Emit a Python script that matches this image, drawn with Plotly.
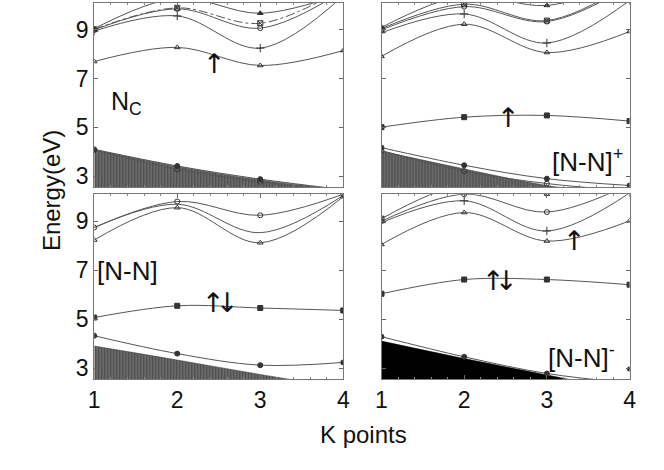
import plotly.graph_objects as go

K = [1, 2, 3, 4]
X_TICKS = [1, 2, 3, 4]
Y_TICKS = [3, 5, 7, 9]
Y_RANGE = [2.55, 10.1]

# Panel 1: N_C
nc_tri = [7.70, 8.28, 7.54, 8.15]
nc_plus = [8.95, 9.57, 8.25, 10.4]
nc_circ = [9.00, 9.86, 9.07, 10.6]
nc_sq = [9.02, 9.90, 9.27, 10.7]
nc_ftri = [9.05, 10.3, 9.68, 10.5]
nc_val = [4.10, 3.42, 2.88, 2.45]
nc_val2 = [4.08, 3.28, 2.77, 2.35]
nc_shade = [4.10, 3.40, 2.85, 2.45]

# Panel 2: [N-N]+
pp_tri = [7.91, 9.23, 8.07, 8.93]
pp_plus = [8.88, 9.65, 8.46, 10.2]
pp_circ = [9.00, 9.95, 9.34, 10.8]
pp_sq = [9.05, 10.05, 9.38, 10.9]
pp_ftri = [9.10, 10.4, 10.0, 11.0]
pp_def = [5.01, 5.42, 5.49, 5.26]
pp_val = [4.17, 3.45, 2.90, 2.62]
pp_val2 = [4.05, 3.21, 2.70, 2.40]
pp_shade = [4.03, 3.30, 2.62, 2.20]

# Panel 3: [N-N]
n0_tri = [8.23, 9.55, 8.12, 10.0]
n0_mid = [8.74, 9.69, 8.53, 10.05]
n0_circ = [8.74, 9.80, 9.24, 10.1]
n0_def = [5.07, 5.55, 5.46, 5.36]
n0_val = [4.33, 3.60, 3.13, 3.24]
n0_shade = [3.91, 3.34, 2.75, 2.20]

# Panel 4: [N-N]-
nm_tri = [8.05, 9.35, 8.19, 9.01]
nm_plus = [8.94, 9.83, 8.60, 10.15]
nm_circ = [9.00, 10.1, 9.37, 10.5]
nm_sq = [9.10, 10.5, 10.15, 10.8]
nm_def = [6.04, 6.62, 6.62, 6.41]
nm_val = [4.29, 3.47, 2.79, 2.40]
nm_extra_k = [4]
nm_extra_e = [2.97]
nm_shade = [4.11, 3.40, 2.73, 2.06]

LINE_COL = "#555555"
HATCH = dict(shape="|", fgcolor="#111111", bgcolor="#808080", size=3, solidity=0.6)

fig = go.Figure()


def band(ax, vals, symbol, dash="solid", size=5):
    xa, ya = ax
    fig.add_trace(go.Scatter(
        x=K, y=vals, xaxis=xa, yaxis=ya, mode="lines+markers" if symbol else "lines",
        line=dict(color=LINE_COL, width=1, shape="spline", smoothing=1.0, dash=dash),
        marker=dict(symbol=symbol or "circle", size=size, color="#333333",
                    line=dict(color="#333333", width=1)),
        showlegend=False, hoverinfo="skip"))


def shade(ax, vals, pattern=True):
    xa, ya = ax
    kw = dict(fillpattern=HATCH, fillcolor="#808080") if pattern else dict(fillcolor="black")
    fig.add_trace(go.Scatter(
        x=K, y=vals, xaxis=xa, yaxis=ya, mode="lines", fill="tozeroy",
        line=dict(color="#333333" if pattern else "black", width=0.5, shape="spline", smoothing=1.0),
        showlegend=False, hoverinfo="skip", **kw))


A1, A2, A3, A4 = ("x", "y"), ("x2", "y2"), ("x3", "y3"), ("x4", "y4")

# Panel 1
shade(A1, nc_shade)
band(A1, nc_val2, "circle-open")
band(A1, nc_val, "circle")
band(A1, nc_tri, "triangle-up-open")
band(A1, nc_plus, "cross-thin-open", size=6)
band(A1, nc_circ, "circle-open")
band(A1, nc_sq, "square-x-open", dash="dashdot")
band(A1, nc_ftri, "triangle-up")

# Panel 2
shade(A2, pp_shade)
band(A2, pp_val2, "circle-open")
band(A2, pp_val, "circle")
band(A2, pp_def, "square")
band(A2, pp_tri, "triangle-up-open")
band(A2, pp_plus, "cross-thin-open", size=6)
band(A2, pp_circ, "circle-open")
band(A2, pp_sq, "square-x-open")
band(A2, pp_ftri, "triangle-up")

# Panel 3
shade(A3, n0_shade)
band(A3, n0_val, "circle")
band(A3, n0_def, "square")
band(A3, n0_tri, "triangle-up-open")
band(A3, n0_mid, None)
band(A3, n0_circ, "circle-open")

# Panel 4
shade(A4, nm_shade, pattern=False)
band(A4, nm_val, "circle")
fig.add_trace(go.Scatter(x=nm_extra_k, y=nm_extra_e, xaxis="x4", yaxis="y4", mode="markers",
                         marker=dict(symbol="circle", size=5, color="#222"),
                         showlegend=False, hoverinfo="skip"))
band(A4, nm_def, "square")
band(A4, nm_tri, "triangle-up-open")
band(A4, nm_plus, "cross-thin-open", size=6)
band(A4, nm_circ, "circle-open")
band(A4, nm_sq, "square-x-open")

W, H = 664, 470
XL = [90 / W, 344 / W]
XR = [383 / W, 636 / W]
YT = [1 - 188 / H, 1 - 3 / H]
YB = [1 - 381 / H, 1 - 195 / H]

FONT = "Liberation Sans, Arial, sans-serif"


def xaxis(dom, anchor, labels):
    return dict(domain=dom, anchor=anchor, range=[1, 4], tickvals=X_TICKS,
                showticklabels=labels, ticks="inside", ticklen=4, tickcolor="#666",
                showline=True, linecolor="#777", linewidth=1, mirror="allticks",
                showgrid=False, zeroline=False,
                minor=dict(ticks="inside", dtick=0.2, ticklen=2, tickcolor="#888"),
                tickfont=dict(family=FONT, size=23, color="#111"))


def yaxis(dom, anchor, labels):
    return dict(domain=dom, anchor=anchor, range=Y_RANGE, tickvals=Y_TICKS,
                showticklabels=labels, ticks="inside", ticklen=4, tickcolor="#666",
                showline=True, linecolor="#777", linewidth=1, mirror="allticks",
                showgrid=False, zeroline=False,
                tickfont=dict(family=FONT, size=23, color="#111"))


fig.update_layout(
    width=W, height=H, margin=dict(l=0, r=0, t=0, b=0),
    paper_bgcolor="white", plot_bgcolor="white",
    xaxis=xaxis(XL, "y", False), yaxis=yaxis(YT, "x", True),
    xaxis2=xaxis(XR, "y2", False), yaxis2=yaxis(YT, "x2", False),
    xaxis3=xaxis(XL, "y3", True), yaxis3=yaxis(YB, "x3", True),
    xaxis4=xaxis(XR, "y4", True), yaxis4=yaxis(YB, "x4", False),
    font=dict(family=FONT, color="#111"),
)

ann = []


def arrow(xr, yr, x, y, text):
    ann.append(dict(xref=xr, yref=yr, x=x, y=y, text=text, showarrow=False,
                    font=dict(family="DejaVu Sans", size=27, color="#111")))


arrow("x", "y", 2.45, 7.63, "↑")
arrow("x2", "y2", 2.53, 5.41, "↑")
arrow("x3", "y3", 2.44, 5.67, "↑")
arrow("x3", "y3", 2.61, 5.67, "↓")
arrow("x4", "y4", 2.35, 6.58, "↑")
arrow("x4", "y4", 2.51, 6.58, "↓")
arrow("x4", "y4", 3.33, 8.2, "↑")


def label(px, py, text, size=25):
    ann.append(dict(xref="paper", yref="paper", x=px / W, y=1 - py / H, text=text,
                    showarrow=False, xanchor="left", yanchor="middle",
                    font=dict(family=FONT, size=size, color="#111")))


label(105, 103, "N<sub>C</sub>", 25)
label(555, 161, "[N-N]<sup>+</sup>", 26)
label(91, 272, "[N-N]", 26)
label(551, 358, "[N-N]<sup>-</sup>", 26)

ann.append(dict(xref="paper", yref="paper", x=30 / W, y=1 - 191 / H, text="Energy(eV)",
                textangle=-90, showarrow=False, font=dict(family=FONT, size=24, color="#111")))
ann.append(dict(xref="paper", yref="paper", x=365 / W, y=1 - 452 / H, text="K points",
                showarrow=False, font=dict(family=FONT, size=24, color="#111")))

fig.update_layout(annotations=ann)
fig.write_html("out.html")
